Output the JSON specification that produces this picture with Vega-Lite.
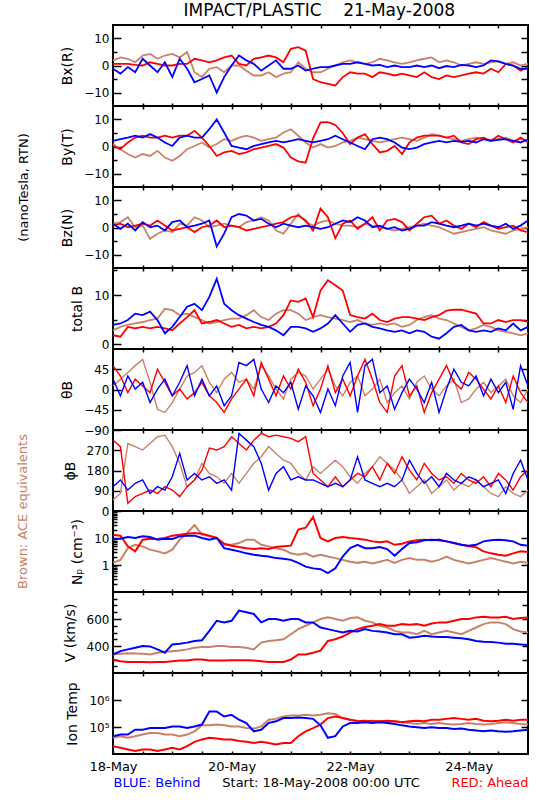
{
"$schema":"https://vega.github.io/schema/vega-lite/v6.json",
"padding":{"left":14,"top":2,"right":5,"bottom":5},
"background":"white",
"title":{"text":"IMPACT/PLASTIC\u00a0\u00a0\u00a0\u00a021-May-2008","font":"DejaVu Sans","fontSize":17,"fontWeight":"normal","color":"#000","anchor":"middle","offset":3,"dx":46},
"data":{"values":[
{"t":"2008-05-18T00:00:00Z","bxa":1.9,"bxr":0.6,"bxb":-1.2,"bya":0.9,"byr":0.2,"byb":2.1,"bza":1.4,"bzr":0.7,"bzb":1.4,"bta":2.8,"btr":1.8,"btb":3.9,"tha":8,"thr":53,"thb":23,"pha":49,"phr":315,"phb":108,"npa":1.2,"npr":13.3,"npb":9.2,"va":337,"vr":300,"vb":337,"ta":39800,"tr":19500,"tb":45700},
{"t":"2008-05-18T03:00:00Z","bxa":3,"bxr":0.6,"bxb":-3,"bya":-1,"byr":-1,"byb":2.7,"bza":2,"bzr":1.4,"bzb":-0.5,"bta":3.5,"btr":1.5,"btb":4.2,"tha":23,"thr":30,"thb":-14,"pha":78,"phr":286,"phb":138,"npa":1.55,"npr":12.2,"npb":9.4,"va":342,"vr":287,"vb":362,"ta":45700,"tr":17000,"tb":52500},
{"t":"2008-05-18T06:00:00Z","bxa":2.5,"bxr":0.6,"bxb":-0.6,"bya":-2.8,"byr":1.5,"byb":3.3,"bza":3.8,"bzr":0.1,"bzb":1.4,"bta":3.9,"btr":3.5,"btb":4.9,"tha":38,"thr":-7,"thb":30,"pha":300,"phr":34,"phb":93,"npa":4.2,"npr":4.9,"npb":10.9,"va":347,"vr":282,"vb":375,"ta":39800,"tr":14800,"tb":52500},
{"t":"2008-05-18T09:00:00Z","bxa":1.2,"bxr":0.2,"bxb":-2.5,"bya":-4.1,"byr":3.3,"byb":4,"bza":0.1,"bzr":0.7,"bzb":-1.1,"bta":4.2,"btr":3.2,"btb":6.2,"tha":53,"thr":23,"thb":1,"pha":286,"phr":64,"phb":123,"npa":5.6,"npr":3.2,"npb":10,"va":345,"vr":282,"vb":387,"ta":45700,"tr":12900,"tb":79400},
{"t":"2008-05-18T12:00:00Z","bxa":3.7,"bxr":0,"bxb":2.5,"bya":-2.8,"byr":4,"byb":3.3,"bza":0.7,"bzr":1.4,"bzb":2,"bta":4.5,"btr":3.5,"btb":5.9,"tha":67,"thr":8,"thb":16,"pha":271,"phr":78,"phb":138,"npa":4.9,"npr":8.7,"npb":11.5,"va":342,"vr":282,"vb":400,"ta":52500,"tr":14800,"tb":79400},
{"t":"2008-05-18T15:00:00Z","bxa":4.3,"bxr":1.2,"bxb":0,"bya":-3.5,"byr":3.3,"byb":4.6,"bza":-4.2,"bzr":0.7,"bzb":0.1,"bta":4.9,"btr":3.2,"btb":6.6,"tha":16,"thr":-7,"thb":-29,"pha":300,"phr":93,"phb":78,"npa":3.7,"npr":9.4,"npb":10.9,"va":337,"vr":280,"vb":397,"ta":60300,"tr":14800,"tb":91200},
{"t":"2008-05-18T18:00:00Z","bxa":2.5,"bxr":0.6,"bxb":-2.5,"bya":-1.6,"byr":3.3,"byb":3.3,"bza":-2.3,"bzr":2.6,"bzb":0.7,"bta":5.2,"btr":3.5,"btb":4.9,"tha":-44,"thr":45,"thb":1,"pha":330,"phr":78,"phb":108,"npa":3.2,"npr":9.2,"npb":8.7,"va":350,"vr":282,"vb":375,"ta":60300,"tr":12900,"tb":91200},
{"t":"2008-05-18T21:00:00Z","bxa":3.7,"bxr":0,"bxb":1.2,"bya":-4.1,"byr":4,"byb":1.5,"bza":-1.1,"bzr":0.7,"bzb":-1.1,"bta":7.2,"btr":3.2,"btb":2.2,"tha":-51,"thr":16,"thb":23,"pha":337,"phr":108,"phb":93,"npa":2.7,"npr":10,"npb":9.4,"va":357,"vr":282,"vb":350,"ta":52500,"tr":14800,"tb":91200},
{"t":"2008-05-19T00:00:00Z","bxa":4.3,"bxr":0,"bxb":-4.3,"bya":-5.3,"byr":3.3,"byb":0.2,"bza":-1.7,"bzr":-1.1,"bzb":2,"bta":6.9,"btr":2.8,"btb":3.5,"tha":-29,"thr":-14,"thb":-14,"pha":286,"phr":93,"phb":152,"npa":3.7,"npr":12.2,"npb":9.2,"va":362,"vr":287,"vb":412,"ta":52500,"tr":17000,"tb":105000},
{"t":"2008-05-19T03:00:00Z","bxa":3,"bxr":0.6,"bxb":2.5,"bya":-3.5,"byr":4,"byb":3.3,"bza":1.4,"bzr":-0.5,"bzb":2.6,"bta":5.9,"btr":4.2,"btb":5.5,"tha":1,"thr":1,"thb":16,"pha":212,"phr":64,"phb":256,"npa":8.7,"npr":13.3,"npb":11.5,"va":367,"vr":292,"vb":417,"ta":45700,"tr":14800,"tb":105000},
{"t":"2008-05-19T06:00:00Z","bxa":5,"bxr":0.6,"bxb":-1.2,"bya":-1,"byr":4,"byb":4,"bza":0.7,"bzr":0.1,"bzb":0.1,"bta":6.2,"btr":5.5,"btb":7.6,"tha":30,"thr":-21,"thb":53,"pha":108,"phr":108,"phb":138,"npa":15.4,"npr":14.5,"npb":12.2,"va":375,"vr":292,"vb":425,"ta":52500,"tr":19500,"tb":91200},
{"t":"2008-05-19T09:00:00Z","bxa":-2.5,"bxr":2.5,"bxb":-6.2,"bya":0.2,"byr":5.8,"byb":3.3,"bza":3.8,"bzr":-1.7,"bzb":0.7,"bta":5.5,"btr":6.9,"btb":8.2,"tha":38,"thr":-7,"thb":-14,"pha":138,"phr":138,"phb":167,"npa":30,"npr":15.4,"npb":12.2,"va":387,"vr":300,"vb":437,"ta":69200,"tr":28200,"tb":105000},
{"t":"2008-05-19T12:00:00Z","bxa":-4.3,"bxr":1.9,"bxb":-5,"bya":1.5,"byr":3.3,"byb":3.3,"bza":2.6,"bzr":0.1,"bzb":1.4,"bta":4.9,"btr":4.2,"btb":6.9,"tha":53,"thr":16,"thb":23,"pha":212,"phr":180,"phb":138,"npa":13.3,"npr":14.5,"npb":10,"va":392,"vr":300,"vb":442,"ta":115000,"tr":34700,"tb":123000},
{"t":"2008-05-19T15:00:00Z","bxa":-1.2,"bxr":1.2,"bxb":-3.7,"bya":-0.4,"byr":0.2,"byb":6.4,"bza":0.1,"bzr":0.7,"bzb":2.6,"bta":4.2,"btr":4.5,"btb":9.6,"tha":16,"thr":-14,"thb":-14,"pha":167,"phr":280,"phb":152,"npa":11.5,"npr":12.2,"npb":8.7,"va":392,"vr":292,"vb":512,"ta":115000,"tr":39800,"tb":372000},
{"t":"2008-05-19T18:00:00Z","bxa":-0.6,"bxr":1.9,"bxb":-10,"bya":0.9,"byr":-3.5,"byb":10,"bza":0.7,"bzr":2.6,"bzb":-7,"bta":4.5,"btr":4.9,"btb":13.3,"tha":-7,"thr":-29,"thb":8,"pha":152,"phr":271,"phb":123,"npa":10,"npr":10,"npb":10,"va":400,"vr":292,"vb":587,"ta":123000,"tr":37200,"tb":372000},
{"t":"2008-05-19T21:00:00Z","bxa":-2.5,"bxr":3,"bxb":-4.3,"bya":2.7,"byr":-2.2,"byb":5.2,"bza":1.4,"bzr":0.1,"bzb":-2.3,"bta":4.9,"btr":4.2,"btb":8.2,"tha":23,"thr":-51,"thb":-36,"pha":123,"phr":286,"phb":138,"npa":5.6,"npr":6.1,"npb":4.2,"va":400,"vr":292,"vb":575,"ta":115000,"tr":34700,"tb":245000},
{"t":"2008-05-20T00:00:00Z","bxa":0,"bxr":3.7,"bxb":0,"bya":2.1,"byr":-1.6,"byb":0.2,"bza":0.7,"bzr":0.7,"bzb":3.8,"bta":5.2,"btr":3.5,"btb":6.9,"tha":38,"thr":-21,"thb":-14,"pha":167,"phr":330,"phb":93,"npa":5.6,"npr":5.2,"npb":3.7,"va":392,"vr":295,"vb":587,"ta":105000,"tr":34700,"tb":282000},
{"t":"2008-05-20T03:00:00Z","bxa":0,"bxr":0.6,"bxb":3.7,"bya":3.3,"byr":-2.8,"byb":-0.4,"bza":0.1,"bzr":0.1,"bzb":5,"bta":5.2,"btr":3.9,"btb":5.9,"tha":16,"thr":1,"thb":60,"pha":123,"phr":300,"phb":345,"npa":6.5,"npr":4.6,"npb":3.2,"va":392,"vr":295,"vb":662,"ta":105000,"tr":30200,"tb":186000},
{"t":"2008-05-20T06:00:00Z","bxa":-1.9,"bxr":0,"bxb":1.9,"bya":4,"byr":-2.2,"byb":-1,"bza":2,"bzr":-1.1,"bzb":4.4,"bta":5.9,"btr":3.2,"btb":5.2,"tha":23,"thr":23,"thb":53,"pha":167,"phr":271,"phb":315,"npa":8.7,"npr":4.2,"npb":2.7,"va":387,"vr":295,"vb":650,"ta":91200,"tr":28200,"tb":141000},
{"t":"2008-05-20T09:00:00Z","bxa":-3.7,"bxr":2.5,"bxb":0.6,"bya":3.3,"byr":-1,"byb":0.2,"bza":2.6,"bzr":-0.5,"bzb":2.6,"bta":6.9,"btr":3.5,"btb":4.5,"tha":1,"thr":-14,"thb":67,"pha":212,"phr":315,"phb":286,"npa":8.7,"npr":3.9,"npb":2.4,"va":375,"vr":292,"vb":637,"ta":87100,"tr":25700,"tb":69200},
{"t":"2008-05-20T12:00:00Z","bxa":-3.7,"bxr":3,"bxb":-1.9,"bya":2.1,"byr":-0.4,"byb":0.9,"bza":3.8,"bzr":0.1,"bzb":3.2,"bta":5.5,"btr":3.2,"btb":3.9,"tha":53,"thr":60,"thb":1,"pha":241,"phr":345,"phb":212,"npa":5.6,"npr":4.2,"npb":2.2,"va":425,"vr":287,"vb":575,"ta":105000,"tr":28200,"tb":79400},
{"t":"2008-05-20T15:00:00Z","bxa":-2.5,"bxr":3.7,"bxb":0,"bya":2.7,"byr":0.2,"byb":1.5,"bza":2.6,"bzr":0.7,"bzb":1.4,"bta":4.9,"btr":3.5,"btb":3.5,"tha":30,"thr":23,"thb":-29,"pha":286,"phr":330,"phb":93,"npa":4.9,"npr":3.9,"npb":2.05,"va":437,"vr":282,"vb":600,"ta":186000,"tr":25700,"tb":141000},
{"t":"2008-05-20T18:00:00Z","bxa":-4.3,"bxr":3,"bxb":1.9,"bya":3.3,"byr":0.9,"byb":2.1,"bza":-1.1,"bzr":1.4,"bzb":0.1,"bta":6.2,"btr":4.2,"btb":2.8,"tha":1,"thr":-14,"thb":8,"pha":256,"phr":337,"phb":167,"npa":4.2,"npr":4.6,"npb":1.8,"va":442,"vr":282,"vb":600,"ta":200000,"tr":22400,"tb":162000},
{"t":"2008-05-20T21:00:00Z","bxa":-3,"bxr":1.2,"bxb":-1.2,"bya":5.2,"byr":-0.4,"byb":1.5,"bza":-2.3,"bzr":2,"bzb":1.4,"bta":6.9,"btr":5.9,"btb":1.8,"tha":-21,"thr":30,"thb":-7,"pha":226,"phr":330,"phb":197,"npa":3.7,"npr":4.9,"npb":1.7,"va":450,"vr":282,"vb":587,"ta":245000,"tr":25700,"tb":214000},
{"t":"2008-05-21T00:00:00Z","bxa":-2.5,"bxr":6.2,"bxb":-1.2,"bya":6.4,"byr":-4.1,"byb":2.1,"bza":1.4,"bzr":3.8,"bzb":0.7,"bta":6.9,"btr":8.9,"btb":3.5,"tha":23,"thr":1,"thb":16,"pha":212,"phr":323,"phb":138,"npa":2.7,"npr":5.2,"npb":1.55,"va":487,"vr":300,"vb":600,"ta":269000,"tr":25700,"tb":214000},
{"t":"2008-05-21T03:00:00Z","bxa":1.2,"bxr":6.8,"bxb":0,"bya":4,"byr":-5.5,"byb":2.7,"bza":5,"bzr":4.4,"bzb":0.1,"bta":6.2,"btr":8.6,"btb":3.5,"tha":38,"thr":45,"thb":-44,"pha":167,"phr":308,"phb":152,"npa":2.4,"npr":20.5,"npb":1.2,"va":525,"vr":337,"vb":600,"ta":269000,"tr":45700,"tb":224000},
{"t":"2008-05-21T06:00:00Z","bxa":-1.2,"bxr":5.5,"bxb":-1.9,"bya":1.5,"byr":-6,"byb":2.1,"bza":2,"bzr":2.6,"bzb":0.7,"bta":4.9,"btr":9.3,"btb":3.2,"tha":30,"thr":16,"thb":8,"pha":138,"phr":330,"phb":138,"npa":2.7,"npr":24,"npb":0.87,"va":550,"vr":337,"vb":575,"ta":282000,"tr":69200,"tb":214000},
{"t":"2008-05-21T09:00:00Z","bxa":-2.5,"bxr":-5,"bxb":-1.2,"bya":-0.4,"byr":3,"byb":1.5,"bza":0.7,"bzr":-1.1,"bzb":0.1,"bta":5.5,"btr":5.5,"btb":2.5,"tha":1,"thr":-36,"thb":-14,"pha":197,"phr":167,"phb":138,"npa":2.05,"npr":60,"npb":0.75,"va":575,"vr":350,"vb":575,"ta":269000,"tr":91200,"tb":200000},
{"t":"2008-05-21T12:00:00Z","bxa":-2.5,"bxr":-6.2,"bxb":-0.6,"bya":0.9,"byr":8.9,"byb":2.1,"bza":2,"bzr":7,"bzb":-0.5,"bta":5.9,"btr":10.9,"btb":3.2,"tha":23,"thr":1,"thb":-51,"pha":167,"phr":138,"phb":123,"npa":2.4,"npr":10,"npb":0.7,"va":600,"vr":365,"vb":537,"ta":282000,"tr":123000,"tb":115000},
{"t":"2008-05-21T15:00:00Z","bxa":-1.2,"bxr":-6.8,"bxb":-0.6,"bya":-0.4,"byr":9,"byb":2.7,"bza":2.6,"bzr":3.8,"bzb":0.1,"bta":5.5,"btr":13,"btb":4.2,"tha":45,"thr":53,"thb":1,"pha":197,"phr":108,"phb":108,"npa":2.05,"npr":7.5,"npb":0.5,"va":612,"vr":437,"vb":525,"ta":324000,"tr":214000,"tb":39800},
{"t":"2008-05-21T18:00:00Z","bxa":0,"bxr":-7.4,"bxb":0,"bya":0.2,"byr":8,"byb":4,"bza":1.4,"bzr":-4,"bzb":1.4,"bta":5.2,"btr":12,"btb":5.9,"tha":8,"thr":-7,"thb":-36,"pha":226,"phr":152,"phb":123,"npa":1.8,"npr":10,"npb":0.75,"va":600,"vr":450,"vb":512,"ta":302000,"tr":245000,"tb":45700},
{"t":"2008-05-21T21:00:00Z","bxa":1.2,"bxr":-4.3,"bxb":0.6,"bya":1.5,"byr":5,"byb":2.7,"bza":0.7,"bzr":1.4,"bzb":2.6,"bta":4.9,"btr":10.9,"btb":4.2,"tha":-14,"thr":23,"thb":30,"pha":197,"phr":108,"phb":108,"npa":1.55,"npr":10.9,"npb":2.05,"va":587,"vr":470,"vb":500,"ta":214000,"tr":214000,"tb":105000},
{"t":"2008-05-22T00:00:00Z","bxa":1.9,"bxr":-2.5,"bxb":0.6,"bya":2.1,"byr":0.9,"byb":1.5,"bza":0.7,"bzr":2.6,"bzb":2,"bta":4.5,"btr":5.9,"btb":2.5,"tha":16,"thr":-14,"thb":60,"pha":152,"phr":138,"phb":138,"npa":1.33,"npr":10,"npb":4.2,"va":607,"vr":500,"vb":512,"ta":186000,"tr":186000,"tb":141000},
{"t":"2008-05-22T03:00:00Z","bxa":1.2,"bxr":-3,"bxb":1.2,"bya":3.3,"byr":3.3,"byb":0.2,"bza":0.1,"bzr":-0.5,"bzb":3.8,"bta":4.9,"btr":5.5,"btb":3.9,"tha":30,"thr":30,"thb":-51,"pha":123,"phr":167,"phb":241,"npa":1.2,"npr":9.4,"npb":5.6,"va":612,"vr":525,"vb":507,"ta":170000,"tr":162000,"tb":141000},
{"t":"2008-05-22T06:00:00Z","bxa":0.6,"bxr":-3,"bxb":0.6,"bya":2.7,"byr":4.6,"byb":-1,"bza":1.4,"bzr":1.4,"bzb":2.6,"bta":4.2,"btr":5.2,"btb":4.2,"tha":-14,"thr":67,"thb":53,"pha":167,"phr":152,"phb":138,"npa":1.33,"npr":8.7,"npb":4.2,"va":587,"vr":540,"vb":525,"ta":162000,"tr":170000,"tb":151000},
{"t":"2008-05-22T09:00:00Z","bxa":1.2,"bxr":-4.3,"bxb":0,"bya":2.1,"byr":0.9,"byb":2.7,"bza":0.7,"bzr":3.8,"bzb":0.1,"bta":3.9,"btr":6.2,"btb":3.5,"tha":1,"thr":23,"thb":67,"pha":197,"phr":197,"phb":123,"npa":1.15,"npr":7.5,"npb":4.2,"va":575,"vr":550,"vb":512,"ta":170000,"tr":162000,"tb":141000},
{"t":"2008-05-22T12:00:00Z","bxa":2.5,"bxr":-2.5,"bxb":0.2,"bya":1.5,"byr":-2.2,"byb":3.3,"bza":0.1,"bzr":-1.1,"bzb":0.7,"bta":4.2,"btr":4.9,"btb":3.2,"tha":23,"thr":-29,"thb":-7,"pha":241,"phr":138,"phb":108,"npa":1.33,"npr":6.9,"npb":4.6,"va":550,"vr":562,"vb":507,"ta":162000,"tr":162000,"tb":151000},
{"t":"2008-05-22T15:00:00Z","bxa":1.9,"bxr":-3,"bxb":-0.6,"bya":2.1,"byr":-1.6,"byb":2.7,"bza":-0.5,"bzr":2.6,"bzb":-0.5,"bta":3.9,"btr":4.5,"btb":2.8,"tha":-29,"thr":-51,"thb":8,"pha":212,"phr":212,"phb":123,"npa":1.55,"npr":7.5,"npb":3.9,"va":537,"vr":550,"vb":500,"ta":151000,"tr":170000,"tb":141000},
{"t":"2008-05-22T18:00:00Z","bxa":1.2,"bxr":-3.7,"bxb":0,"bya":2.7,"byr":0.2,"byb":1.5,"bza":-1.1,"bzr":3.2,"bzb":0.1,"bta":4.2,"btr":5.2,"btb":2.5,"tha":-7,"thr":30,"thb":-44,"pha":182,"phr":167,"phb":108,"npa":1.2,"npr":5.6,"npb":2.2,"va":512,"vr":550,"vb":487,"ta":162000,"tr":162000,"tb":129000},
{"t":"2008-05-22T21:00:00Z","bxa":0.6,"bxr":-3,"bxb":-0.6,"bya":3.3,"byr":-2.8,"byb":-0.4,"bza":-0.5,"bzr":2,"bzb":-1.1,"bta":3.5,"btr":5.5,"btb":2.8,"tha":8,"thr":53,"thb":-7,"pha":138,"phr":241,"phb":138,"npa":1.55,"npr":6.1,"npb":3.9,"va":500,"vr":562,"vb":487,"ta":151000,"tr":151000,"tb":115000},
{"t":"2008-05-23T00:00:00Z","bxa":1.2,"bxr":-3.7,"bxb":-0.6,"bya":2.7,"byr":1.5,"byb":-1,"bza":0.1,"bzr":-1.1,"bzb":-0.5,"bta":3.9,"btr":5.5,"btb":2.2,"tha":-21,"thr":-14,"thb":23,"pha":78,"phr":182,"phb":226,"npa":1.8,"npr":7.5,"npb":6.5,"va":500,"vr":557,"vb":462,"ta":141000,"tr":162000,"tb":105000},
{"t":"2008-05-23T03:00:00Z","bxa":1.9,"bxr":-4.3,"bxb":0,"bya":2.1,"byr":3.3,"byb":-0.4,"bza":0.7,"bzr":1.4,"bzb":0.7,"bta":4.9,"btr":5.2,"btb":2.8,"tha":16,"thr":8,"thb":1,"pha":108,"phr":138,"phb":167,"npa":1.55,"npr":8.2,"npb":7,"va":487,"vr":562,"vb":467,"ta":129000,"tr":170000,"tb":97700},
{"t":"2008-05-23T06:00:00Z","bxa":2.5,"bxr":-2.5,"bxb":-0.6,"bya":3.3,"byr":4,"byb":0.9,"bza":1.4,"bzr":3.8,"bzb":0.7,"bta":5.5,"btr":4.9,"btb":2.5,"tha":30,"thr":-51,"thb":-29,"pha":138,"phr":212,"phb":123,"npa":1.55,"npr":8.7,"npb":8.2,"va":512,"vr":550,"vb":475,"ta":141000,"tr":162000,"tb":91200},
{"t":"2008-05-23T09:00:00Z","bxa":3,"bxr":-4.3,"bxb":0,"bya":4.6,"byr":4,"byb":1.5,"bza":0.7,"bzr":4.4,"bzb":2,"bta":5.9,"btr":5.5,"btb":1.5,"tha":1,"thr":-7,"thb":16,"pha":78,"phr":167,"phb":152,"npa":1.33,"npr":8.2,"npb":8.7,"va":487,"vr":567,"vb":470,"ta":129000,"tr":186000,"tb":97700},
{"t":"2008-05-23T12:00:00Z","bxa":1.2,"bxr":-5,"bxb":-1,"bya":4,"byr":4,"byb":2.1,"bza":0.1,"bzr":1.4,"bzb":1.4,"bta":5.2,"btr":5.9,"btb":1.1,"tha":-14,"thr":23,"thb":-51,"pha":108,"phr":138,"phb":108,"npa":1.55,"npr":8.7,"npb":8.2,"va":500,"vr":575,"vb":467,"ta":141000,"tr":186000,"tb":91200},
{"t":"2008-05-23T15:00:00Z","bxa":1.9,"bxr":-3.7,"bxb":-0.2,"bya":3.3,"byr":3.3,"byb":1.5,"bza":-1.1,"bzr":2.6,"bzb":0.7,"bta":4.9,"btr":6.8,"btb":2.2,"tha":8,"thr":53,"thb":1,"pha":138,"phr":152,"phb":167,"npa":2.05,"npr":7.5,"npb":7.5,"va":512,"vr":575,"vb":467,"ta":129000,"tr":200000,"tb":91200},
{"t":"2008-05-23T18:00:00Z","bxa":1.2,"bxr":-4.3,"bxb":-0.6,"bya":2.7,"byr":4,"byb":2.1,"bza":-2.3,"bzr":0.7,"bzb":0.1,"bta":4.2,"btr":7,"btb":3.5,"tha":23,"thr":16,"thb":45,"pha":93,"phr":123,"phb":138,"npa":1.55,"npr":6.5,"npb":6.5,"va":500,"vr":587,"vb":462,"ta":123000,"tr":214000,"tb":85100},
{"t":"2008-05-23T21:00:00Z","bxa":0,"bxr":-3.7,"bxb":0.2,"bya":2.1,"byr":1.5,"byb":1.7,"bza":-1.7,"bzr":-0.5,"bzb":0.7,"bta":3.5,"btr":7,"btb":3.9,"tha":-29,"thr":1,"thb":16,"pha":123,"phr":167,"phb":123,"npa":1.33,"npr":5.6,"npb":5.6,"va":487,"vr":600,"vb":457,"ta":129000,"tr":200000,"tb":87100},
{"t":"2008-05-24T00:00:00Z","bxa":0.6,"bxr":-3,"bxb":0,"bya":2.7,"byr":0.9,"byb":2.1,"bza":-1.1,"bzr":1.4,"bzb":1.4,"bta":2.8,"btr":6.6,"btb":2.8,"tha":-21,"thr":38,"thb":8,"pha":108,"phr":138,"phb":152,"npa":1.15,"npr":4.9,"npb":5.2,"va":512,"vr":600,"vb":450,"ta":141000,"tr":186000,"tb":79400},
{"t":"2008-05-24T03:00:00Z","bxa":1.2,"bxr":-2.5,"bxb":-0.6,"bya":3.3,"byr":2.7,"byb":1.5,"bza":-0.5,"bzr":0.1,"bzb":0.7,"bta":3.2,"btr":6.2,"btb":2.5,"tha":1,"thr":23,"thb":30,"pha":138,"phr":123,"phb":138,"npa":1.33,"npr":4.6,"npb":5.6,"va":537,"vr":612,"vb":437,"ta":129000,"tr":200000,"tb":74100},
{"t":"2008-05-24T06:00:00Z","bxa":0.6,"bxr":-3,"bxb":0,"bya":2.7,"byr":3.3,"byb":2.7,"bza":0.1,"bzr":2,"bzb":1.4,"bta":3.9,"btr":4.2,"btb":2.8,"tha":16,"thr":1,"thb":-14,"pha":108,"phr":152,"phb":108,"npa":1.55,"npr":3.2,"npb":7.5,"va":562,"vr":617,"vb":432,"ta":123000,"tr":170000,"tb":69200},
{"t":"2008-05-24T09:00:00Z","bxa":1.2,"bxr":-1.2,"bxb":1.9,"bya":2.1,"byr":2.1,"byb":2.1,"bza":-1.1,"bzr":0.7,"bzb":0.7,"bta":3.5,"btr":4.2,"btb":2.5,"tha":-7,"thr":-21,"thb":23,"pha":78,"phr":108,"phb":123,"npa":1.8,"npr":2.7,"npb":8.2,"va":575,"vr":612,"vb":430,"ta":129000,"tr":162000,"tb":74100},
{"t":"2008-05-24T12:00:00Z","bxa":1.5,"bxr":-2.5,"bxb":1.5,"bya":2.7,"byr":4,"byb":2.5,"bza":-1.7,"bzr":-0.5,"bzb":0.1,"bta":2.8,"btr":4.9,"btb":3.2,"tha":8,"thr":8,"thb":-7,"pha":64,"phr":167,"phb":138,"npa":1.55,"npr":2.4,"npb":8.7,"va":575,"vr":612,"vb":425,"ta":141000,"tr":170000,"tb":69200},
{"t":"2008-05-24T15:00:00Z","bxa":0.6,"bxr":0.6,"bxb":0.6,"bya":3.3,"byr":2.7,"byb":2.7,"bza":-2.3,"bzr":0.1,"bzb":1.4,"bta":2.5,"btr":4.5,"btb":2.8,"tha":23,"thr":-29,"thb":16,"pha":108,"phr":138,"phb":78,"npa":1.33,"npr":2.2,"npb":8.2,"va":562,"vr":617,"vb":417,"ta":151000,"tr":186000,"tb":66100},
{"t":"2008-05-24T18:00:00Z","bxa":1.2,"bxr":0,"bxb":0,"bya":2.1,"byr":1.5,"byb":2.1,"bza":-1.1,"bzr":0.7,"bzb":-0.5,"bta":2.2,"btr":4.9,"btb":4.2,"tha":-14,"thr":30,"thb":-44,"pha":78,"phr":93,"phb":167,"npa":1.15,"npr":2.7,"npb":7.5,"va":525,"vr":600,"vb":417,"ta":141000,"tr":170000,"tb":69200},
{"t":"2008-05-24T21:00:00Z","bxa":0,"bxr":-1.9,"bxb":-1.2,"bya":2.7,"byr":3.3,"byb":1.5,"bza":-0.5,"bzr":-1.1,"bzb":0.7,"bta":1.8,"btr":4.9,"btb":2.8,"tha":-29,"thr":-7,"thb":53,"pha":64,"phr":152,"phb":226,"npa":1.33,"npr":3.2,"npb":5.6,"va":507,"vr":607,"vb":412,"ta":129000,"tr":186000,"tb":74100},
{"t":"2008-05-25T00:00:00Z","bxa":0.6,"bxr":-0.6,"bxb":-1.2,"bya":2.1,"byr":1.5,"byb":2.7,"bza":0.1,"bzr":-1.7,"bzb":2.6,"bta":2.2,"btr":4.5,"btb":3.5,"tha":1,"thr":-29,"thb":8,"pha":93,"phr":182,"phb":138,"npa":1.2,"npr":3,"npb":5.2,"va":500,"vr":612,"vb":407,"ta":123000,"tr":186000,"tb":79400}
]},
"spacing":0,
"bounds":"flush",
"vconcat":[
{"width":415,"height":81,
"layer":[
{"mark":{"type":"line","color":"#c98268","strokeWidth":1.8,"clip":true},
"encoding":{"x":{"field":"t","type":"temporal","scale":{"domain":[1211068800000,1211673600000]},"axis":{"orient":"bottom","values":[1211112000000,1211155200000,1211198400000,1211241600000,1211284800000,1211328000000,1211371200000,1211414400000,1211457600000,1211500800000,1211544000000,1211587200000,1211630400000],"tickSize":-3,"labels":false,"title":null}},
"y":{"field":"bxa","type":"quantitative","scale":{"domain":[-15,15],"nice":false,"zero":false},"axis":{"orient":"left","values":[-10,0,10],"tickSize":-8,"labelPadding":12,"title":"Bx(R)"}}}},
{"mark":{"type":"line","color":"#ff0000","strokeWidth":1.8,"clip":true},
"encoding":{"x":{"field":"t","type":"temporal","axis":{"orient":"top","values":[1211112000000,1211155200000,1211198400000,1211241600000,1211284800000,1211328000000,1211371200000,1211414400000,1211457600000,1211500800000,1211544000000,1211587200000,1211630400000],"tickSize":-3,"labels":false,"title":null}},
"y":{"field":"bxr","type":"quantitative","axis":{"orient":"right","values":[-10,-5,0,5,10],"labels":false,"tickSize":-7,"title":null}}}},
{"mark":{"type":"line","color":"#0000ff","strokeWidth":1.8,"clip":true},
"encoding":{"x":{"field":"t","type":"temporal","axis":null},"y":{"field":"bxb","type":"quantitative","axis":{"orient":"left","values":[-5,5],"labels":false,"tickSize":-4,"title":null}}}}
],
"resolve":{"axis":{"x":"independent","y":"independent"}}},

{"width":415,"height":81,
"layer":[
{"mark":{"type":"line","color":"#c98268","strokeWidth":1.8,"clip":true},
"encoding":{"x":{"field":"t","type":"temporal","scale":{"domain":[1211068800000,1211673600000]},"axis":{"orient":"bottom","values":[1211112000000,1211155200000,1211198400000,1211241600000,1211284800000,1211328000000,1211371200000,1211414400000,1211457600000,1211500800000,1211544000000,1211587200000,1211630400000],"tickSize":-3,"labels":false,"title":null}},
"y":{"field":"bya","type":"quantitative","scale":{"domain":[-15,15],"nice":false,"zero":false},"axis":{"orient":"left","values":[-10,0,10],"tickSize":-8,"labelPadding":12,"title":"By(T)"}}}},
{"mark":{"type":"line","color":"#ff0000","strokeWidth":1.8,"clip":true},
"encoding":{"x":{"field":"t","type":"temporal","axis":{"orient":"top","values":[1211112000000,1211155200000,1211198400000,1211241600000,1211284800000,1211328000000,1211371200000,1211414400000,1211457600000,1211500800000,1211544000000,1211587200000,1211630400000],"tickSize":-3,"labels":false,"title":null}},
"y":{"field":"byr","type":"quantitative","axis":{"orient":"right","values":[-10,-5,0,5,10],"labels":false,"tickSize":-7,"title":null}}}},
{"mark":{"type":"line","color":"#0000ff","strokeWidth":1.8,"clip":true},
"encoding":{"x":{"field":"t","type":"temporal","axis":null},"y":{"field":"byb","type":"quantitative","axis":{"orient":"left","values":[-5,5],"labels":false,"tickSize":-4,"title":null}}}}
],
"resolve":{"axis":{"x":"independent","y":"independent"}}},

{"width":415,"height":81,
"layer":[
{"mark":{"type":"line","color":"#c98268","strokeWidth":1.8,"clip":true},
"encoding":{"x":{"field":"t","type":"temporal","scale":{"domain":[1211068800000,1211673600000]},"axis":{"orient":"bottom","values":[1211112000000,1211155200000,1211198400000,1211241600000,1211284800000,1211328000000,1211371200000,1211414400000,1211457600000,1211500800000,1211544000000,1211587200000,1211630400000],"tickSize":-3,"labels":false,"title":null}},
"y":{"field":"bza","type":"quantitative","scale":{"domain":[-15,15],"nice":false,"zero":false},"axis":{"orient":"left","values":[-10,0,10],"tickSize":-8,"labelPadding":12,"title":"Bz(N)"}}}},
{"mark":{"type":"line","color":"#ff0000","strokeWidth":1.8,"clip":true},
"encoding":{"x":{"field":"t","type":"temporal","axis":{"orient":"top","values":[1211112000000,1211155200000,1211198400000,1211241600000,1211284800000,1211328000000,1211371200000,1211414400000,1211457600000,1211500800000,1211544000000,1211587200000,1211630400000],"tickSize":-3,"labels":false,"title":null}},
"y":{"field":"bzr","type":"quantitative","axis":{"orient":"right","values":[-10,-5,0,5,10],"labels":false,"tickSize":-7,"title":null}}}},
{"mark":{"type":"line","color":"#0000ff","strokeWidth":1.8,"clip":true},
"encoding":{"x":{"field":"t","type":"temporal","axis":null},"y":{"field":"bzb","type":"quantitative","axis":{"orient":"left","values":[-5,5],"labels":false,"tickSize":-4,"title":"(nanoTesla, RTN)","titleFontSize":13,"titleX":-83,"titleY":0}}}}
],
"resolve":{"axis":{"x":"independent","y":"independent"}}},

{"width":415,"height":81,
"layer":[
{"mark":{"type":"line","color":"#c98268","strokeWidth":1.8,"clip":true},
"encoding":{"x":{"field":"t","type":"temporal","scale":{"domain":[1211068800000,1211673600000]},"axis":{"orient":"bottom","values":[1211112000000,1211155200000,1211198400000,1211241600000,1211284800000,1211328000000,1211371200000,1211414400000,1211457600000,1211500800000,1211544000000,1211587200000,1211630400000],"tickSize":-3,"labels":false,"title":null}},
"y":{"field":"bta","type":"quantitative","scale":{"domain":[-1,15.5],"nice":false,"zero":false},"axis":{"orient":"left","values":[0,10],"tickSize":-8,"labelPadding":12,"title":"total B"}}}},
{"mark":{"type":"line","color":"#ff0000","strokeWidth":1.8,"clip":true},
"encoding":{"x":{"field":"t","type":"temporal","axis":{"orient":"top","values":[1211112000000,1211155200000,1211198400000,1211241600000,1211284800000,1211328000000,1211371200000,1211414400000,1211457600000,1211500800000,1211544000000,1211587200000,1211630400000],"tickSize":-3,"labels":false,"title":null}},
"y":{"field":"btr","type":"quantitative","axis":{"orient":"right","values":[5,10,15],"labels":false,"tickSize":-7,"title":null}}}},
{"mark":{"type":"line","color":"#0000ff","strokeWidth":1.8,"clip":true},
"encoding":{"x":{"field":"t","type":"temporal","axis":null},"y":{"field":"btb","type":"quantitative","axis":{"orient":"left","values":[5,15],"labels":false,"tickSize":-4,"title":null}}}}
],
"resolve":{"axis":{"x":"independent","y":"independent"}}},

{"width":415,"height":81,
"layer":[
{"mark":{"type":"line","color":"#c98268","strokeWidth":1.4,"clip":true},
"encoding":{"x":{"field":"t","type":"temporal","scale":{"domain":[1211068800000,1211673600000]},"axis":{"orient":"bottom","values":[1211112000000,1211155200000,1211198400000,1211241600000,1211284800000,1211328000000,1211371200000,1211414400000,1211457600000,1211500800000,1211544000000,1211587200000,1211630400000],"tickSize":-3,"labels":false,"title":null}},
"y":{"field":"tha","type":"quantitative","scale":{"domain":[-90,90],"nice":false,"zero":false},"axis":{"orient":"left","values":[-90,-45,0,45],"tickSize":-8,"labelPadding":12,"title":"θB"}}}},
{"mark":{"type":"line","color":"#ff0000","strokeWidth":1.4,"clip":true},
"encoding":{"x":{"field":"t","type":"temporal","axis":{"orient":"top","values":[1211112000000,1211155200000,1211198400000,1211241600000,1211284800000,1211328000000,1211371200000,1211414400000,1211457600000,1211500800000,1211544000000,1211587200000,1211630400000],"tickSize":-3,"labels":false,"title":null}},
"y":{"field":"thr","type":"quantitative","axis":{"orient":"right","values":[-45,0,45],"labels":false,"tickSize":-7,"title":null}}}},
{"mark":{"type":"line","color":"#0000ff","strokeWidth":1.4,"clip":true},
"encoding":{"x":{"field":"t","type":"temporal","axis":null},"y":{"field":"thb","type":"quantitative","axis":null}}}
],
"resolve":{"axis":{"x":"independent","y":"independent"}}},

{"width":415,"height":81,
"layer":[
{"mark":{"type":"line","color":"#c98268","strokeWidth":1.4,"clip":true},
"encoding":{"x":{"field":"t","type":"temporal","scale":{"domain":[1211068800000,1211673600000]},"axis":{"orient":"bottom","values":[1211112000000,1211155200000,1211198400000,1211241600000,1211284800000,1211328000000,1211371200000,1211414400000,1211457600000,1211500800000,1211544000000,1211587200000,1211630400000],"tickSize":-3,"labels":false,"title":null}},
"y":{"field":"pha","type":"quantitative","scale":{"domain":[0,360],"nice":false,"zero":false},"axis":{"orient":"left","values":[0,90,180,270],"tickSize":-8,"labelPadding":12,"title":"ϕB"}}}},
{"mark":{"type":"line","color":"#ff0000","strokeWidth":1.4,"clip":true},
"encoding":{"x":{"field":"t","type":"temporal","axis":{"orient":"top","values":[1211112000000,1211155200000,1211198400000,1211241600000,1211284800000,1211328000000,1211371200000,1211414400000,1211457600000,1211500800000,1211544000000,1211587200000,1211630400000],"tickSize":-3,"labels":false,"title":null}},
"y":{"field":"phr","type":"quantitative","axis":{"orient":"right","values":[90,180,270],"labels":false,"tickSize":-7,"title":null}}}},
{"mark":{"type":"line","color":"#0000ff","strokeWidth":1.4,"clip":true},
"encoding":{"x":{"field":"t","type":"temporal","axis":null},"y":{"field":"phb","type":"quantitative","axis":null}}}
],
"resolve":{"axis":{"x":"independent","y":"independent"}}},

{"width":415,"height":81,
"layer":[
{"mark":{"type":"line","color":"#c98268","strokeWidth":2,"clip":true},
"encoding":{"x":{"field":"t","type":"temporal","scale":{"domain":[1211068800000,1211673600000]},"axis":{"orient":"bottom","values":[1211112000000,1211155200000,1211198400000,1211241600000,1211284800000,1211328000000,1211371200000,1211414400000,1211457600000,1211500800000,1211544000000,1211587200000,1211630400000],"tickSize":-3,"labels":false,"title":null}},
"y":{"field":"npa","type":"quantitative","scale":{"type":"log","domain":[0.1,100],"nice":false},"axis":{"orient":"left","values":[1,10],"labelExpr":"datum.value == 1 ? '1' : '10'","tickSize":-8,"labelPadding":12,"title":"Nₚ (cm⁻³)"}}}},
{"mark":{"type":"line","color":"#ff0000","strokeWidth":2,"clip":true},
"encoding":{"x":{"field":"t","type":"temporal","axis":{"orient":"top","values":[1211112000000,1211155200000,1211198400000,1211241600000,1211284800000,1211328000000,1211371200000,1211414400000,1211457600000,1211500800000,1211544000000,1211587200000,1211630400000],"tickSize":-3,"labels":false,"title":null}},
"y":{"field":"npr","type":"quantitative","axis":{"orient":"right","values":[1,10],"labels":false,"tickSize":-7,"title":null}}}},
{"mark":{"type":"line","color":"#0000ff","strokeWidth":2,"clip":true},
"encoding":{"x":{"field":"t","type":"temporal","axis":null},"y":{"field":"npb","type":"quantitative","axis":{"orient":"left","values":[0.2,0.3,0.4,0.5,0.6,0.7,0.8,0.9,2,3,4,5,6,7,8,9,20,30,40,50,60,70,80,90],"labels":false,"tickSize":-4,"title":"Brown: ACE equivalents","titleFontSize":13,"titleColor":"#c98268","titleX":-84,"titleY":0}}}}
],
"resolve":{"axis":{"x":"independent","y":"independent"}}},

{"width":415,"height":81,
"layer":[
{"mark":{"type":"line","color":"#c98268","strokeWidth":2,"clip":true},
"encoding":{"x":{"field":"t","type":"temporal","scale":{"domain":[1211068800000,1211673600000]},"axis":{"orient":"bottom","values":[1211112000000,1211155200000,1211198400000,1211241600000,1211284800000,1211328000000,1211371200000,1211414400000,1211457600000,1211500800000,1211544000000,1211587200000,1211630400000],"tickSize":-3,"labels":false,"title":null}},
"y":{"field":"va","type":"quantitative","scale":{"domain":[200,800],"nice":false,"zero":false},"axis":{"orient":"left","values":[400,600],"tickSize":-8,"labelPadding":12,"title":"V (km/s)"}}}},
{"mark":{"type":"line","color":"#ff0000","strokeWidth":2,"clip":true},
"encoding":{"x":{"field":"t","type":"temporal","axis":{"orient":"top","values":[1211112000000,1211155200000,1211198400000,1211241600000,1211284800000,1211328000000,1211371200000,1211414400000,1211457600000,1211500800000,1211544000000,1211587200000,1211630400000],"tickSize":-3,"labels":false,"title":null}},
"y":{"field":"vr","type":"quantitative","axis":{"orient":"right","values":[300,400,500,600,700],"labels":false,"tickSize":-6,"title":null}}}},
{"mark":{"type":"line","color":"#0000ff","strokeWidth":2,"clip":true},
"encoding":{"x":{"field":"t","type":"temporal","axis":null},"y":{"field":"vb","type":"quantitative","axis":{"orient":"left","values":[250,300,350,450,500,550,650,700,750],"labels":false,"tickSize":-4,"title":null}}}}
],
"resolve":{"axis":{"x":"independent","y":"independent"}}},

{"width":415,"height":81,
"layer":[
{"mark":{"type":"line","color":"#c98268","strokeWidth":2,"clip":true},
"encoding":{"x":{"field":"t","type":"temporal","scale":{"domain":[1211068800000,1211673600000]},"axis":{"orient":"bottom","values":[1211068800000,1211112000000,1211155200000,1211198400000,1211241600000,1211284800000,1211328000000,1211371200000,1211414400000,1211457600000,1211500800000,1211544000000,1211587200000,1211630400000],"tickSize":-3,"labels":true,"labelExpr":"utchours(datum.value) == 0 && utcdate(datum.value) % 2 == 0 ? utcFormat(datum.value, '%d-%b') : ''","labelFontSize":13,"labelPadding":9,"labelFlush":false,"labelOverlap":false,"title":"Start: 18-May-2008 00:00 UTC","titleFontSize":13,"titleY":22}},
"y":{"field":"ta","type":"quantitative","scale":{"type":"log","domain":[10000,10000000],"nice":false},"axis":{"orient":"left","values":[100000,1000000],"labelExpr":"datum.value == 100000 ? '10⁵' : '10⁶'","tickSize":-8,"labelPadding":12,"title":"Ion Temp"}}}},
{"mark":{"type":"line","color":"#ff0000","strokeWidth":2,"clip":true},
"encoding":{"x":{"field":"t","type":"temporal","axis":{"orient":"top","values":[1211112000000,1211155200000,1211198400000,1211241600000,1211284800000,1211328000000,1211371200000,1211414400000,1211457600000,1211500800000,1211544000000,1211587200000,1211630400000],"tickSize":-3,"labels":false,"title":null}},
"y":{"field":"tr","type":"quantitative","axis":{"orient":"right","values":[100000,1000000],"labels":false,"tickSize":-7,"title":null}}}},
{"mark":{"type":"line","color":"#0000ff","strokeWidth":2,"clip":true},
"encoding":{"x":{"field":"t","type":"temporal","axis":{"orient":"bottom","labels":false,"ticks":false,"title":"BLUE: Behind","titleFontSize":13,"titleColor":"#0000ff","titleAnchor":"start","titleAlign":"left","titleY":22}},"y":{"field":"tb","type":"quantitative","axis":null}}},
{"mark":{"type":"point","opacity":0},
"encoding":{"x":{"field":"t","type":"temporal","axis":{"orient":"bottom","labels":false,"ticks":false,"title":"RED: Ahead","titleFontSize":13,"titleColor":"#ff0000","titleAnchor":"end","titleAlign":"right","titleY":22}},"y":{"field":"tb","type":"quantitative","axis":null}}}
],
"resolve":{"axis":{"x":"independent","y":"independent"}}}
],
"config":{
"view":{"stroke":"#000","strokeWidth":2},
"axis":{"domain":false,"grid":false,"tickColor":"#000","tickWidth":1.5,"labelFont":"DejaVu Sans","labelFontSize":12,"labelColor":"#000","titleFont":"DejaVu Sans","titleFontSize":14,"titleFontWeight":"normal","titleColor":"#000","titlePadding":9,"labelFlush":false,"labelOverlap":false}
}
}
